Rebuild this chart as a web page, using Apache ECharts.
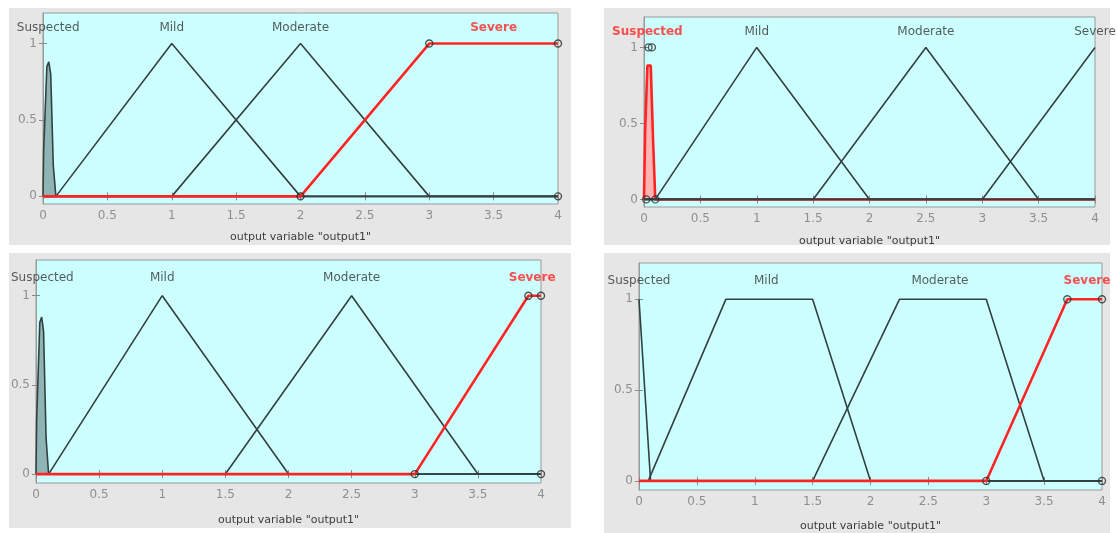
<!DOCTYPE html>
<html>
<head>
<meta charset="utf-8">
<script src="https://cdn.jsdelivr.net/npm/echarts@6/dist/echarts.min.js"></script>
<style>
  html, body { margin: 0; padding: 0; background: #fff; }
  #wrap { position: relative; width: 1117px; height: 533px; overflow: hidden; }
  .panel { position: absolute; background: #e6e6e6; }
  #chart { position: absolute; left: 0; top: 0; width: 1117px; height: 533px; }
</style>
</head>
<body>
<div id="wrap">
  <div class="panel" style="left:9px;top:8px;width:562px;height:237px"></div>
  <div class="panel" style="left:604px;top:8px;width:506px;height:237px"></div>
  <div class="panel" style="left:9px;top:253px;width:562px;height:275px"></div>
  <div class="panel" style="left:604px;top:253px;width:506px;height:280px"></div>
  <div id="chart"></div>
</div>
<script>
// membership function names and axis ticks
const mfNames = ['Suspected', 'Mild', 'Moderate', 'Severe']
const yTicks = [0, 0.5, 1]
const axisTitle = 'output variable "output1"'

// top left
const aSuspected = [[0, 0], [0.005, 0.3], [0.03, 0.85], [0.045, 0.88], [0.06, 0.8], [0.08, 0.2], [0.1, 0], [4, 0]]
const aMild = [[0, 0], [0.1, 0], [1, 1], [2, 0], [4, 0]]
const aModerate = [[0, 0], [1, 0], [2, 1], [3, 0], [4, 0]]
const aSevere = [[0, 0], [2, 0], [3, 1], [4, 1]]
const aMarkers = [[2, 0], [3, 1], [4, 1], [4, 0]]
const aLabelX = [0.04, 1, 2, 3.5]

// top right
const bSuspected = [[0, 0], [0.01, 0.45], [0.03, 0.88], [0.06, 0.88], [0.08, 0.4], [0.1, 0], [4, 0]]
const bMild = [[0, 0], [0.1, 0], [1, 1], [2, 0], [4, 0]]
const bModerate = [[0, 0], [1.5, 0], [2.5, 1], [3.5, 0], [4, 0]]
const bSevere = [[0, 0], [3, 0], [4, 1]]
const bMarkers = [[0.04, 1], [0.07, 1], [0.02, 0], [0.1, 0]]
const bLabelX = [0.03, 1, 2.5, 4]

// bottom left
const cSuspected = [[0, 0], [0.005, 0.3], [0.03, 0.85], [0.045, 0.88], [0.06, 0.8], [0.08, 0.2], [0.1, 0], [4, 0]]
const cMild = [[0, 0], [0.1, 0], [1, 1], [2, 0], [4, 0]]
const cModerate = [[0, 0], [1.5, 0], [2.5, 1], [3.5, 0], [4, 0]]
const cSevere = [[0, 0], [3, 0], [3.9, 1], [4, 1]]
const cMarkers = [[3, 0], [3.9, 1], [4, 1], [4, 0]]
const cLabelX = [0.05, 1, 2.5, 3.93]

// bottom right
const dSuspected = [[0, 1], [0.1, 0], [4, 0]]
const dMild = [[0, 0], [0.08, 0], [0.75, 1], [1.5, 1], [2, 0], [4, 0]]
const dModerate = [[0, 0], [1.5, 0], [2.25, 1], [3, 1], [3.5, 0], [4, 0]]
const dSevere = [[0, 0], [3, 0], [3.7, 1], [4, 1]]
const dMarkers = [[3, 0], [3.7, 1], [4, 1], [4, 0]]
const dLabelX = [0, 1.1, 2.6, 3.87]

const labelY = 1.1

const panels = [
  { grid: { left: 43, top: 13, width: 515, height: 191 }, nameGap: 28, curves: [aSuspected, aMild, aModerate, aSevere], selected: 3, markers: aMarkers, labelX: aLabelX, fill: true },
  { grid: { left: 644, top: 17, width: 451, height: 190 }, nameGap: 29, curves: [bSuspected, bMild, bModerate, bSevere], selected: 0, markers: bMarkers, labelX: bLabelX, fill: true, redBelow: true },
  { grid: { left: 36, top: 260, width: 505, height: 223 }, nameGap: 32, curves: [cSuspected, cMild, cModerate, cSevere], selected: 3, markers: cMarkers, labelX: cLabelX, fill: true },
  { grid: { left: 639, top: 263, width: 463, height: 229 }, nameGap: 31, curves: [dSuspected, dMild, dModerate, dSevere], selected: 3, markers: dMarkers, labelX: dLabelX, fill: false }
]

const RED = '#ff2424'
const DARK = '#344040'
const font = 'DejaVu Sans'

const grids = []
const xAxes = []
const yAxes = []
const series = []

panels.forEach((p, i) => {
  grids.push(Object.assign({
    show: true,
    backgroundColor: '#ccffff',
    borderColor: '#9a9a9a',
    borderWidth: 1
  }, p.grid))

  const tick = { show: true, inside: true, length: 4, lineStyle: { color: '#8a8a8a' } }
  xAxes.push({
    type: 'value', gridIndex: i, min: 0, max: 4, interval: 0.5,
    axisLine: { show: true, lineStyle: { color: '#9a9a9a' } },
    axisTick: tick,
    axisLabel: { color: '#8f8f8f', fontSize: 12, fontFamily: font, margin: 6 },
    splitLine: { show: false },
    name: axisTitle, nameLocation: 'middle', nameGap: p.nameGap,
    nameTextStyle: { color: '#3c3c3c', fontSize: 11, fontFamily: font }
  })
  xAxes.push({
    type: 'value', gridIndex: i, position: 'top', min: 0, max: 4, interval: 0.5,
    axisLine: { show: true, lineStyle: { color: '#9a9a9a' } },
    axisTick: tick, axisLabel: { show: false }, splitLine: { show: false }
  })
  yAxes.push({
    type: 'value', gridIndex: i, min: -0.05, max: 1.2,
    axisLine: { show: true, lineStyle: { color: '#9a9a9a' } },
    axisTick: Object.assign({ customValues: yTicks }, tick),
    axisLabel: { customValues: yTicks, color: '#8f8f8f', fontSize: 12, fontFamily: font, margin: 6 },
    splitLine: { show: false }
  })
  yAxes.push({
    type: 'value', gridIndex: i, position: 'right', min: -0.05, max: 1.2,
    axisLine: { show: true, lineStyle: { color: '#9a9a9a' } },
    axisTick: Object.assign({ customValues: yTicks }, tick),
    axisLabel: { show: false }, splitLine: { show: false }
  })

  const xi = i * 2
  const yi = i * 2

  p.curves.forEach((data, k) => {
    const sel = k === p.selected
    const s = {
      type: 'line', xAxisIndex: xi, yAxisIndex: yi, data: data,
      showSymbol: false, silent: true, animation: false,
      lineStyle: { color: sel ? RED : DARK, width: sel ? 2.6 : 1.6 },
      z: sel ? (p.redBelow ? 2 : 4) : 3
    }
    if (k === 0 && p.fill) {
      s.areaStyle = { color: sel ? '#ffb4b4' : '#8fb4b4', opacity: 1 }
    }
    series.push(s)
  })

  series.push({
    type: 'scatter', xAxisIndex: xi, yAxisIndex: yi, data: p.markers,
    symbol: 'circle', symbolSize: 7, silent: true, animation: false, z: 6,
    itemStyle: { color: 'rgba(0,0,0,0)', borderColor: '#2a2a2a', borderWidth: 1.4 }
  })

  series.push({
    type: 'scatter', xAxisIndex: xi, yAxisIndex: yi, symbolSize: 0, silent: true, animation: false, z: 7,
    clip: false,
    data: mfNames.map((n, k) => ({
      value: [p.labelX[k], labelY], name: n,
      label: k === p.selected
        ? { color: RED, fontWeight: 'bold', fontSize: 12 }
        : { color: '#333', fontWeight: 'normal', fontSize: 12 }
    })),
    label: { show: true, position: 'inside', formatter: '{b}', fontFamily: font }
  })
})

const chart = echarts.init(document.getElementById('chart'))
chart.setOption({
  backgroundColor: 'transparent',
  animation: false,
  grid: grids,
  xAxis: xAxes,
  yAxis: yAxes,
  series: series
})
</script>
</body>
</html>
